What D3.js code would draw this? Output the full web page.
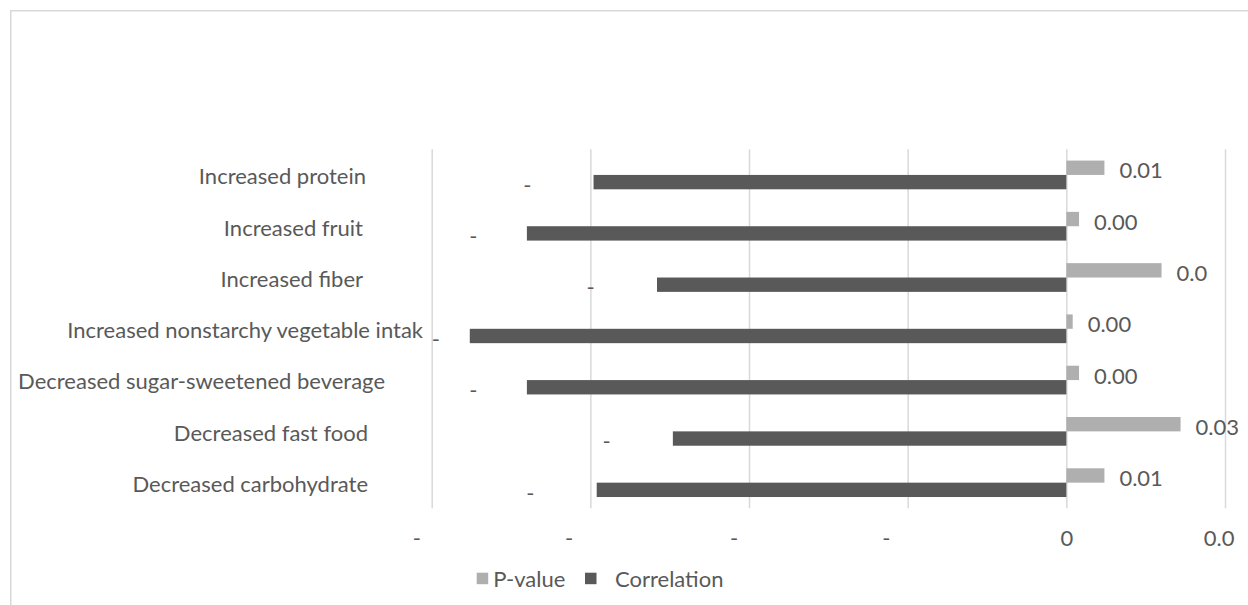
<!DOCTYPE html>
<html>
<head>
<meta charset="utf-8">
<script src="https://cdn.jsdelivr.net/npm/d3@7"></script>
<style>
  html, body { margin: 0; padding: 0; background: #fff; }
  svg { display: block; font-family: Lato, "Open Sans", sans-serif; }
</style>
</head>
<body>
<div id="chart"></div>
<script>
// Data
const categories = [
    "Increased protein",
    "Increased fruit",
    "Increased fiber",
    "Increased nonstarchy vegetable intak",
    "Decreased sugar-sweetened beverage",
    "Decreased fast food",
    "Decreased carbohydrate"
];
const pValues = [0.012, 0.004, 0.030, 0.002, 0.004, 0.036, 0.012];
const correlations = [-0.149, -0.170, -0.129, -0.188, -0.170, -0.124, -0.148];
// labels as they appear (Excel cut them short)
const pLabels = ["0.01", "0.00", "0.0", "0.00", "0.00", "0.03", "0.01"];
const tickValues = [-0.2, -0.15, -0.1, -0.05, 0, 0.05];
const tickLabels = ["-", "-", "-", "-", "0", "0.0"];
const seriesNames = ["P-value", "Correlation"];

const width = 1248, height = 605;
const fontSize = 22;
const textColor = "#595959";
const colors = { "P-value": "#afafaf", "Correlation": "#595959" };
const gridColor = "#d9d9d9";

const plot = { left: 431.7, right: 1225, top: 149.3, bottom: 508.3 };
// Excel placed the category labels a bit unevenly; small horizontal nudges
const labelNudge = [-2, -5, -5, 55, 17, 0, 0];

const fmt = d3.formatLocale({ decimal: ".", thousands: ",", grouping: [3], currency: ["", ""], minus: "-" }).format("~g");

const svg = d3.select("#chart").append("svg")
    .attr("width", width)
    .attr("height", height);

svg.append("rect").attr("width", width).attr("height", height).attr("fill", "#fff");

// outer frame (only top and left edges visible)
svg.append("path")
    .attr("d", `M10.75,${height} V10.75 H${width}`)
    .attr("fill", "none")
    .attr("stroke", gridColor)
    .attr("stroke-width", 1.5);

const x = d3.scaleLinear()
    .domain([-0.2, 0.05])
    .range([plot.left, plot.right]);

const y = d3.scaleBand()
    .domain(categories)
    .range([plot.top, plot.bottom])
    .paddingInner(0.44)
    .paddingOuter(0.22);

const sub = d3.scaleBand()
    .domain(seriesNames)
    .range([0, y.bandwidth()]);

// vertical gridlines
const grid = svg.append("g")
    .attr("transform", `translate(0,${plot.bottom})`)
    .call(d3.axisBottom(x).tickValues(tickValues).tickSize(-(plot.bottom - plot.top)).tickFormat(""));
grid.select(".domain").remove();
grid.selectAll(".tick line").attr("stroke", gridColor).attr("stroke-width", 1.5);

// x tick labels: full label is centred, only the first characters show
const xAxis = svg.append("g")
    .attr("transform", `translate(0,${plot.bottom})`)
    .call(d3.axisBottom(x).tickValues(tickValues).tickSize(0).tickFormat(d => fmt(d)));
xAxis.select(".domain").remove();
xAxis.selectAll(".tick text")
    .attr("font-size", fontSize)
    .attr("font-family", "Lato")
    .attr("fill", textColor)
    .attr("dy", null)
    .attr("y", 38.2)
    .each(function(d, i) {
        const full = this.getComputedTextLength();
        d3.select(this)
            .attr("text-anchor", "start")
            .attr("x", -full / 2)
            .text(tickLabels[i]);
    });

// category labels
const yAxis = svg.append("g")
    .attr("transform", `translate(${plot.left},0)`)
    .call(d3.axisLeft(y).tickSize(0).tickPadding(63.7));
yAxis.select(".domain").remove();
yAxis.selectAll(".tick text")
    .attr("font-size", fontSize)
    .attr("font-family", "Lato")
    .attr("fill", textColor)
    .attr("dy", null)
    .attr("y", 9.3)
    .attr("dx", (d, i) => labelNudge[i]);

// bars
const rows = categories.map((c, i) => ({ cat: c, p: pValues[i], r: correlations[i], pl: pLabels[i] }));

svg.append("g").selectAll("rect")
    .data(rows)
    .join("rect")
    .attr("x", x(0))
    .attr("y", d => y(d.cat) + sub("P-value"))
    .attr("width", d => x(d.p) - x(0))
    .attr("height", sub.bandwidth())
    .attr("fill", colors["P-value"]);

svg.append("g").selectAll("rect")
    .data(rows)
    .join("rect")
    .attr("x", d => x(d.r))
    .attr("y", d => y(d.cat) + sub("Correlation"))
    .attr("width", d => x(0) - x(d.r))
    .attr("height", sub.bandwidth())
    .attr("fill", colors["Correlation"]);

// p-value labels
svg.append("g").selectAll("text")
    .data(rows)
    .join("text")
    .attr("x", d => x(d.p) + 15)
    .attr("y", d => y(d.cat) + sub("P-value") + sub.bandwidth() / 2 + 10.6)
    .attr("font-size", fontSize)
    .attr("fill", textColor)
    .text(d => d.pl);

// correlation labels: only the minus sign of the label is visible
svg.append("g").selectAll("text")
    .data(rows)
    .join("text")
    .attr("y", d => y(d.cat) + sub("Correlation") + sub.bandwidth() / 2 + 10.7)
    .attr("font-size", fontSize)
    .attr("fill", textColor)
    .text(d => fmt(d.r))
    .each(function(d) {
        const full = this.getComputedTextLength();
        const start = Math.max(plot.left, x(d.r) - 6 - full);
        d3.select(this).attr("x", start).text("-");
    });

// legend
const legendItems = [
    { name: "P-value", box: 476.7, text: 493.3 },
    { name: "Correlation", box: 585, text: 615 }
];
const legend = svg.append("g");
legend.selectAll("rect")
    .data(legendItems)
    .join("rect")
    .attr("x", d => d.box)
    .attr("y", 572.7)
    .attr("width", 11.5)
    .attr("height", 11.5)
    .attr("fill", d => colors[d.name]);
legend.selectAll("text")
    .data(legendItems)
    .join("text")
    .attr("x", d => d.text)
    .attr("y", 586.7)
    .attr("font-size", fontSize)
    .attr("fill", textColor)
    .text(d => d.name);
</script>
</body>
</html>
